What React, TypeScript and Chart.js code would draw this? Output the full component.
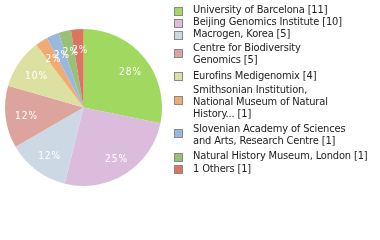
import React, { useEffect, useRef } from "react";
import { Chart, registerables } from "chart.js";

Chart.register(...registerables);

const labels = [
  "University of Barcelona",
  "Beijing Genomics Institute",
  "Macrogen, Korea",
  "Centre for Biodiversity Genomics",
  "Eurofins Medigenomix",
  "Smithsonian Institution, National Museum of Natural History...",
  "Slovenian Academy of Sciences and Arts, Research Centre",
  "Natural History Museum, London",
  "1 Others",
];
const counts = [11, 10, 5, 5, 4, 1, 1, 1, 1];
const colors = [
  "#a0d860",
  "#dcbcdc",
  "#ccd8e4",
  "#dca49c",
  "#dce0a0",
  "#f0ac70",
  "#98b8e0",
  "#98c078",
  "#dc7460",
];

const FONT = "11px 'DejaVu Sans Condensed', 'DejaVu Sans', sans-serif";
const LABEL_FONT = "10px 'DejaVu Sans Condensed', 'DejaVu Sans', sans-serif";

function wrap(text: string, maxChars: number): string[] {
  const words = text.split(" ");
  const lines: string[] = [];
  let cur = "";
  for (const w of words) {
    const next = cur ? cur + " " + w : w;
    if (next.length > maxChars && cur) {
      lines.push(cur);
      cur = w;
    } else {
      cur = next;
    }
  }
  if (cur) lines.push(cur);
  return lines;
}

const legendPlugin = {
  id: "customLegend",
  afterDraw(chart: any) {
    const ctx = chart.ctx;
    ctx.save();
    ctx.font = FONT;
    ctx.letterSpacing = "-0.15px";
    ctx.textBaseline = "middle";
    ctx.textAlign = "left";
    const items = labels.map((l, i) => {
      const lines = wrap(l, 30);
      lines[lines.length - 1] = lines[lines.length - 1] + " [" + counts[i] + "]";
      return lines;
    });
    const lineH = 12;
    let y = 10;
    items.forEach((lines, i) => {
      const n = lines.length;
      lines.forEach((t, j) => {
        ctx.fillStyle = "#222";
        ctx.fillText(t, 193, y + j * lineH);
      });
      const boxC = n > 1 ? y + ((n - 1) * lineH) / 2 - 1.5 : y + 1;
      const top = Math.round(boxC - 3.5);
      ctx.fillStyle = colors[i];
      ctx.fillRect(175, top, 7, 7);
      ctx.strokeStyle = "#888";
      ctx.lineWidth = 1;
      ctx.strokeRect(174.5, top - 0.5, 8, 8);
      const last = y + (n - 1) * lineH;
      if (i < items.length - 1) {
        const nextMulti = items[i + 1].length > 1;
        const extra = n > 1 ? 3.3 : nextMulti ? 2 : 0.3;
        y = last + lineH + extra;
      }
    });
    ctx.restore();
  },
  afterDatasetsDraw(chart: any) {
    const ctx = chart.ctx;
    const meta = chart.getDatasetMeta(0);
    const total = counts.reduce((a, b) => a + b, 0);
    ctx.save();
    ctx.font = LABEL_FONT;
    ctx.letterSpacing = "1px";
    ctx.fillStyle = "#ffffff";
    ctx.textAlign = "center";
    ctx.textBaseline = "middle";
    meta.data.forEach((arc: any, i: number) => {
      const p = arc.getProps(["x", "y", "startAngle", "endAngle", "outerRadius"], true);
      const mid = (p.startAngle + p.endAngle) / 2;
      const r = p.outerRadius * 0.75;
      const pct = Math.floor((counts[i] / total) * 100);
      ctx.fillText(pct + "%", p.x + Math.cos(mid) * r + 1.5, p.y + Math.sin(mid) * r + 2);
    });
    ctx.restore();
  },
};

export default function App() {
  const ref = useRef<HTMLCanvasElement>(null);
  useEffect(() => {
    document.body.style.margin = "0";
    const chart = new Chart(ref.current!, {
      type: "pie",
      data: {
        labels,
        datasets: [
          {
            data: counts,
            backgroundColor: colors,
            borderWidth: 0,
          },
        ],
      },
      options: {
        animation: false,
        responsive: false,
        layout: { padding: { left: 5, right: 218, top: 29, bottom: 54 } },
        plugins: { legend: { display: false }, tooltip: { enabled: false } },
      },
      plugins: [legendPlugin],
    });
    return () => chart.destroy();
  }, []);
  return (
    <div style={{ width: 380, height: 240 }}>
      <canvas ref={ref} width={380} height={240} style={{ display: "block" }} />
    </div>
  );
}
